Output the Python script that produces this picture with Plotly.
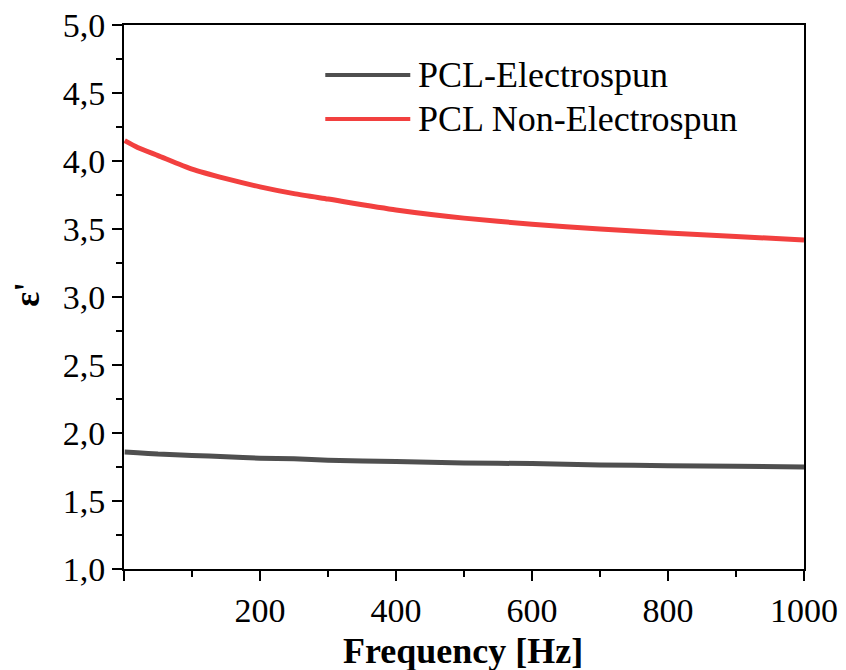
import plotly.graph_objects as go

# Frequency sweep [Hz] and real permittivity readings for both samples
freq_hz = [1, 20, 50, 100, 150, 200, 250, 300, 400, 500, 600, 700, 800, 900, 1000]
eps_electrospun = [1.86, 1.855, 1.845, 1.835, 1.825, 1.815, 1.81, 1.80, 1.79, 1.78,
                   1.775, 1.765, 1.76, 1.755, 1.75]
eps_non_electrospun = [4.15, 4.10, 4.04, 3.94, 3.87, 3.81, 3.76, 3.72, 3.64, 3.58,
                       3.535, 3.50, 3.47, 3.445, 3.42]

series_names = ["PCL-Electrospun", "PCL Non-Electrospun"]
series_colors = ["#4F4F4F", "#F2403F"]

x_tick_vals = [0, 200, 400, 600, 800, 1000]
x_tick_text = ["", "200", "400", "600", "800", "1000"]

FONT = "Liberation Serif"

fig = go.Figure()
for name, values, color in zip(series_names, [eps_electrospun, eps_non_electrospun], series_colors):
    fig.add_trace(go.Scatter(x=freq_hz, y=values, mode="lines", name=name,
                             line=dict(color=color, width=5, shape="spline", smoothing=0.6),
                             showlegend=False))

# Hand-drawn legend: long line samples with labels to their right
legend_rows_y = [0.908, 0.827]
for name, color, ly in zip(series_names, series_colors, legend_rows_y):
    fig.add_shape(type="line", xref="paper", yref="paper", x0=0.296, x1=0.421, y0=ly, y1=ly,
                  line=dict(color=color, width=4))
    fig.add_annotation(xref="paper", yref="paper", x=0.429, y=ly, text=name, showarrow=False,
                       xanchor="left", yanchor="middle", font=dict(family=FONT, size=36, color="black"))

# Axis titles
fig.add_annotation(xref="paper", yref="paper", x=0.4985, y=-0.151, text="<b>Frequency [Hz]</b>",
                   showarrow=False, xanchor="center", yanchor="middle",
                   font=dict(family=FONT, size=36, color="black"))
fig.add_annotation(xref="paper", yref="paper", x=-0.142, y=0.505, text="<b>ε'</b>", textangle=-90,
                   showarrow=False, xanchor="center", yanchor="middle",
                   font=dict(family=FONT, size=35, color="black"))

axis_common = dict(showline=True, linecolor="black", linewidth=2, mirror=True,
                   ticks="outside", tickwidth=2, tickcolor="black", ticklen=10,
                   showgrid=False, zeroline=False,
                   tickfont=dict(family=FONT, size=34, color="black"))

fig.update_xaxes(range=[0, 1000], tickmode="array", tickvals=x_tick_vals, ticktext=x_tick_text,
                 minor=dict(tickmode="linear", tick0=0, dtick=100, ticks="outside", ticklen=6,
                            tickwidth=2, tickcolor="black", showgrid=False),
                 **axis_common)
fig.update_yaxes(range=[1, 5], tickmode="linear", tick0=1, dtick=0.5, tickformat=".1f",
                 minor=dict(tickmode="linear", tick0=1, dtick=0.25, ticks="outside", ticklen=6,
                            tickwidth=2, tickcolor="black", showgrid=False),
                 **axis_common)

fig.update_layout(width=846, height=670, separators=",.",
                  margin=dict(l=124, r=42, t=25, b=101, autoexpand=False),
                  plot_bgcolor="white", paper_bgcolor="white",
                  font=dict(family=FONT, color="black"))

fig.write_html("out.html")
